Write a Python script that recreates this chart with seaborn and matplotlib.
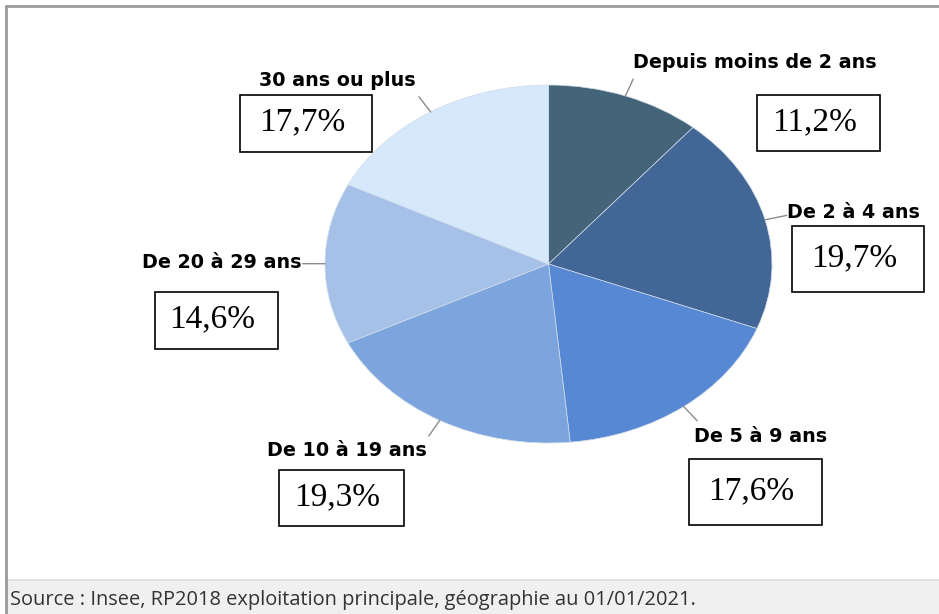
import numpy as np
import matplotlib
matplotlib.use("Agg")
import matplotlib.pyplot as plt
import seaborn as sns
from matplotlib.patches import Rectangle

# Data: ancienneté d'emménagement
categories = ["Depuis moins de 2 ans", "De 2 à 4 ans", "De 5 à 9 ans",
              "De 10 à 19 ans", "De 20 à 29 ans", "30 ans ou plus"]
shares = [11.2, 19.7, 17.6, 19.3, 14.6, 17.7]
source = "Source : Insee, RP2018 exploitation principale, géographie au 01/01/2021."

sns.set_theme(style="white")
plt.rcParams["font.family"] = ["Open Sans", "DejaVu Sans"]

colors = sns.color_palette(["#436479", "#426696", "#5788d4",
                            "#7ca5dd", "#a6c1e8", "#d6e8fc"])

W, H = 939, 614
fig = plt.figure(figsize=(W / 100, H / 100), dpi=100)
fig.patch.set_facecolor("white")

# overlay in pixel coordinates for frame, labels and boxes
bg = fig.add_axes([0, 0, 1, 1])
bg.set_xlim(0, W)
bg.set_ylim(H, 0)
bg.axis("off")

# source bar
bg.add_patch(Rectangle((6, 580), W, 40, facecolor="#f0f0f0", edgecolor="none"))
bg.plot([6, W], [580, 580], color="#dcdcdc", lw=1.2)
bg.plot([6, 6], [6, H], color="#9a9a9a", lw=2)
bg.plot([6, W], [6, 6], color="#9a9a9a", lw=2)
bg.text(10, 600, source, fontsize=14.4, color="#333333", va="center", ha="left")

# pie (elliptical, as in the original)
px0, py0, px1, py1 = 325, 85, 772, 443
ax = fig.add_axes([px0 / W, 1 - py1 / H, (px1 - px0) / W, (py1 - py0) / H])
ax.pie(shares, colors=colors, startangle=90, counterclock=False,
       wedgeprops=dict(edgecolor="#d0dbe8", linewidth=0.5))
ax.set_aspect("auto")
ax.set_xlim(-1, 1)
ax.set_ylim(-1, 1)
ax.axis("off")

# leader lines at slice mid-angles
cum = np.cumsum([0] + shares)
mids = (cum[:-1] + cum[1:]) / 2 / cum[-1] * 2 * np.pi
for m in mids:
    xs = [np.sin(m) * 1.0, np.sin(m) * 1.1]
    ys = [np.cos(m) * 1.0, np.cos(m) * 1.1]
    ax.plot(xs, ys, color="#8c8c8c", lw=1, clip_on=False)

# label and box layout (pixels)
label_pos = [(755, 63), (853, 212), (761, 437), (347, 451), (222, 263), (337, 81)]
box_rects = [(757, 95, 123, 56), (792, 226, 132, 66), (689, 459, 133, 66),
             (279, 470, 125, 56), (155, 292, 123, 57), (240, 95, 132, 57)]

for name, v, (lx, ly), (bx, by, bw, bh) in zip(categories, shares, label_pos, box_rects):
    bg.text(lx, ly, name, fontsize=13.8, fontweight="bold", color="black",
            family=["DejaVu Sans"], ha="center", va="center")
    bg.add_patch(Rectangle((bx, by), bw, bh, facecolor="white",
                           edgecolor="black", lw=1.2))
    pct = f"{v:.1f}%".replace(".", ",")
    bg.text(bx + bw / 2 - 4, by + bh / 2 - 1, pct, fontsize=24,
            family=["Liberation Serif", "DejaVu Serif"], color="black",
            ha="center", va="center")

fig.savefig("out.png", dpi=100)
